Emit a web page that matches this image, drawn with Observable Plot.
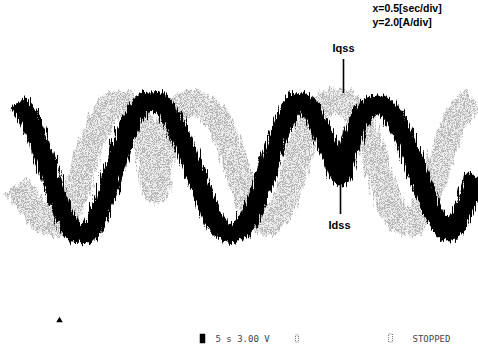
<!DOCTYPE html>
<html><head><meta charset="utf-8">
<script src="https://cdn.jsdelivr.net/npm/d3@7"></script>
<script src="https://cdn.jsdelivr.net/npm/@observablehq/plot@0.6"></script>
<style>body{margin:0;background:#fff}</style>
</head><body><div id="chart"></div>
<script>
// time in seconds (0.5 s/div), current in A (2.0 A/div)
const idssT = [0.18,0.30,0.45,0.60,0.75,0.88,1.00,1.15,1.30,1.45,1.60,1.75,1.90,2.05,2.20,2.35,2.50,2.65,2.80,2.95,3.05,3.18,3.30,3.40,3.48,3.60,3.75,3.90,4.05,4.20,4.35,4.48,4.60,4.75];
const idssA = [3.15,2.25,0.25,-2.0,-3.35,-3.35,-2.25,0.0,2.15,3.15,3.1,2.0,0.25,-1.75,-3.15,-3.35,-2.5,-0.5,1.75,3.1,3.1,2.0,0.75,-0.5,0.75,2.35,3.05,2.65,1.25,-0.75,-2.5,-3.3,-2.6,-0.5];
const iqssT = [0.15,0.30,0.45,0.58,0.70,0.85,0.97,1.10,1.25,1.38,1.48,1.55,1.62,1.72,1.85,2.00,2.15,2.28,2.42,2.55,2.68,2.82,2.95,3.08,3.22,3.35,3.48,3.62,3.75,3.88,4.00,4.12,4.25,4.40,4.55,4.72];
const iqssA = [-1.0,-2.0,-2.75,-2.85,-2.0,0.25,1.85,2.95,3.05,2.35,0.75,-1.25,0.75,2.45,3.05,3.05,2.35,1.0,-1.0,-2.35,-2.85,-2.0,0.0,2.0,3.05,3.25,3.05,2.0,0.25,-1.75,-2.75,-2.85,-1.75,0.25,2.25,3.35];

const scaleText = ["x=0.5[sec/div]", "y=2.0[A/div]"];
const scaleTextT = [3.72, 3.72];
const scaleTextA = [7.85, 7.15];
const traceLabels = ["Iqss", "Idss"];
const traceLabelT = [3.43, 3.39];
const traceLabelA = [5.85, -3.0];
const leaderT = [3.43, 3.40];
const leaderA1 = [5.3, -0.3];
const leaderA2 = [3.6, -2.45];
const statusText = ["5 s 3.00 V", "STOPPED"];
const statusT = [2.15, 4.12];
const statusA = -8.68;

const idss = idssT.map((t, i) => ({t, a: idssA[i]}));
const iqss = iqssT.map((t, i) => ({t, a: iqssA[i]}));
const zip = (a, f) => a.map((_, i) => f(i));

const plot = Plot.plot({
  width: 478, height: 358, margin: 0,
  style: {background: "#fff"},
  x: {domain: [0, 4.78], axis: null},
  y: {domain: [-9.65, 8.25], axis: null},
  marks: [
    Plot.line(iqss, {x: "t", y: "a", stroke: "#bbb", strokeWidth: 26, curve: "catmull-rom", strokeLinecap: "butt"}),
    Plot.line(idss, {x: "t", y: "a", stroke: "#000", strokeWidth: 20, curve: "catmull-rom", strokeLinecap: "butt"}),
    Plot.ruleX(zip(leaderT, i => ({t: leaderT[i], a1: leaderA1[i], a2: leaderA2[i]})), {x: "t", y1: "a1", y2: "a2", stroke: "#000", strokeWidth: 1.6}),
    Plot.text(zip(traceLabels, i => ({s: traceLabels[i], t: traceLabelT[i], a: traceLabelA[i]})), {x: "t", y: "a", text: "s", fontSize: 11, fontWeight: "bold", fontFamily: "Liberation Sans, Arial, sans-serif", fill: "#000"}),
    Plot.text(zip(scaleText, i => ({s: scaleText[i], t: scaleTextT[i], a: scaleTextA[i]})), {x: "t", y: "a", text: "s", textAnchor: "start", fontSize: 10.5, fontWeight: "bold", fontFamily: "Liberation Sans, Arial, sans-serif", fill: "#000"}),
    Plot.text(zip(statusText, i => ({s: statusText[i], t: statusT[i], a: statusA})), {x: "t", y: "a", text: "s", textAnchor: "start", fontSize: 9, fontFamily: "DejaVu Sans Mono, monospace", fill: "#444"}),
    Plot.rect([{x1: 2.00, x2: 2.05, y1: -8.45, y2: -8.9}], {x1: "x1", x2: "x2", y1: "y1", y2: "y2", fill: "#000", stroke: "#000", strokeWidth: 0.5}),
    Plot.rect([{x1: 2.955, x2: 2.985, y1: -8.5, y2: -8.85}, {x1: 3.885, x2: 3.925, y1: -8.45, y2: -8.85}], {x1: "x1", x2: "x2", y1: "y1", y2: "y2", fill: "none", stroke: "#777", strokeWidth: 1, strokeDasharray: "1,1"}),
    Plot.dot([{t: 0.59, a: -7.75}], {x: "t", y: "a", symbol: "triangle", r: 2.4, fill: "#000"})
  ]
});

const svg = d3.select(plot);
const defs = svg.insert("defs", ":first-child");
function rough(id, fx, fy, scale, seed, speckle) {
  const f = defs.append("filter").attr("id", id).attr("filterUnits", "userSpaceOnUse")
    .attr("x", 0).attr("y", 0).attr("width", 478).attr("height", 358);
  f.append("feTurbulence").attr("type", "fractalNoise").attr("baseFrequency", fx + " " + fy)
    .attr("numOctaves", 2).attr("seed", seed).attr("result", "noise");
  f.append("feDisplacementMap").attr("in", "SourceGraphic").attr("in2", "noise")
    .attr("scale", scale).attr("xChannelSelector", "R").attr("yChannelSelector", "G").attr("result", "disp");
  if (speckle) {
    f.append("feFlood").attr("flood-color", "#efefef").attr("result", "base0");
    f.append("feComposite").attr("in", "base0").attr("in2", "disp").attr("operator", "in").attr("result", "base");
    f.append("feTurbulence").attr("type", "fractalNoise").attr("baseFrequency", "1.4").attr("numOctaves", 1).attr("seed", 11).attr("result", "sp");
    f.append("feColorMatrix").attr("in", "sp").attr("type", "matrix")
      .attr("values", "0 0 0 0 0.45  0 0 0 0 0.45  0 0 0 0 0.45  9 0 0 0 -4.1").attr("result", "spk");
    f.append("feComposite").attr("in", "spk").attr("in2", "disp").attr("operator", "in").attr("result", "dots");
    const m = f.append("feMerge");
    m.append("feMergeNode").attr("in", "base");
    m.append("feMergeNode").attr("in", "dots");
  }
}
rough("roughBlack", 0.7, 0.06, 12, 3, false);
rough("roughGray", 0.35, 0.05, 12, 7, true);
const lines = plot.querySelectorAll('g[aria-label="line"]');
lines[0].setAttribute("filter", "url(#roughGray)");
lines[1].setAttribute("filter", "url(#roughBlack)");
document.getElementById("chart").appendChild(plot);
</script>
</body></html>
